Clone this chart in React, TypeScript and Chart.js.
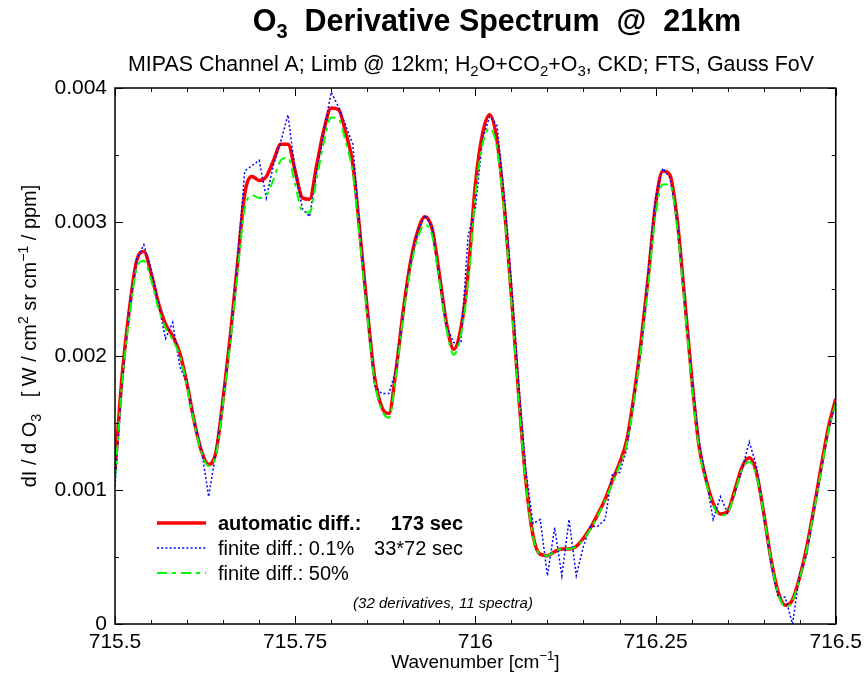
import { useEffect, useRef } from "react";
import { Chart, registerables } from "chart.js";

Chart.register(...registerables);

const FAMILY = '"Liberation Sans", Arial, Helvetica, sans-serif';

// Wavenumber sampling grid [cm^-1]
const wavenumbers = [
  715.5, 715.51, 715.52, 715.53, 715.54, 715.55, 715.56, 715.57, 715.58, 715.59,
  715.6, 715.61, 715.62, 715.63, 715.64, 715.65, 715.66, 715.67, 715.68, 715.69,
  715.7, 715.71, 715.72, 715.73, 715.74, 715.75, 715.76, 715.77, 715.78, 715.79,
  715.8, 715.81, 715.82, 715.83, 715.84, 715.85, 715.86, 715.87, 715.88, 715.89,
  715.9, 715.91, 715.92, 715.93, 715.94, 715.95, 715.96, 715.97, 715.98, 715.99,
  716.0, 716.01, 716.02, 716.03, 716.04, 716.05, 716.06, 716.07, 716.08, 716.09,
  716.1, 716.11, 716.12, 716.13, 716.14, 716.15, 716.16, 716.17, 716.18, 716.19,
  716.2, 716.21, 716.22, 716.23, 716.24, 716.25, 716.26, 716.27, 716.28, 716.29,
  716.3, 716.31, 716.32, 716.33, 716.34, 716.35, 716.36, 716.37, 716.38, 716.39,
  716.4, 716.41, 716.42, 716.43, 716.44, 716.45, 716.46, 716.47, 716.48, 716.49,
  716.5,
];

// automatic differentiation
const automaticDiff = [
  0.00115, 0.00186, 0.00235, 0.00271, 0.00278, 0.00262, 0.0024, 0.00224, 0.00215, 0.00202,
  0.00179, 0.00151, 0.00129, 0.00119, 0.00128, 0.00168, 0.00215, 0.00269, 0.00321, 0.00334,
  0.00331, 0.00334, 0.00346, 0.00358, 0.00358, 0.00338, 0.00318, 0.00317, 0.00343, 0.00369,
  0.00385, 0.00384, 0.00367, 0.00343, 0.00291, 0.00235, 0.00185, 0.00162, 0.00157, 0.0019,
  0.00234, 0.0027, 0.00293, 0.00304, 0.00295, 0.00261, 0.00224, 0.00205, 0.00221, 0.00262,
  0.00328, 0.00366, 0.0038, 0.00361, 0.00312, 0.00245, 0.00172, 0.00107, 0.00066, 0.00052,
  0.00051, 0.00054, 0.00056, 0.00056, 0.00058, 0.00064, 0.00072, 0.00082, 0.00093, 0.00107,
  0.0012, 0.00137, 0.0017, 0.00211, 0.0026, 0.00313, 0.00338, 0.00335, 0.00302, 0.00245,
  0.00185, 0.00134, 0.00108, 0.0009, 0.00082, 0.00084, 0.001, 0.00117, 0.00124, 0.00113,
  0.00083, 0.00049, 0.00024, 0.00014, 0.00018, 0.00035, 0.00058, 0.00087, 0.00118, 0.00147,
  0.00168,
];

// finite differences, 0.1% perturbation
const finiteDiff01 = [
  0.00103, 0.0018, 0.00235, 0.00272, 0.00283, 0.00265, 0.0024, 0.00213, 0.00225, 0.00192,
  0.0018, 0.0015, 0.0013, 0.00095, 0.00128, 0.00168, 0.00212, 0.0027, 0.00338, 0.00342,
  0.00346, 0.00318, 0.00343, 0.0036, 0.0038, 0.00338, 0.0031, 0.00304, 0.00338, 0.00368,
  0.00397, 0.00386, 0.00372, 0.00358, 0.00291, 0.00235, 0.00178, 0.00172, 0.00172, 0.0019,
  0.00232, 0.0027, 0.00293, 0.00305, 0.00296, 0.00258, 0.00222, 0.0021, 0.0021, 0.0029,
  0.0031, 0.00362, 0.00379, 0.00372, 0.0032, 0.00255, 0.0018, 0.00115, 0.00075, 0.00078,
  0.00036, 0.00072, 0.00036, 0.00078, 0.00036, 0.00058, 0.00073, 0.00073, 0.00078, 0.00112,
  0.00113, 0.0013, 0.00168, 0.00205, 0.00262, 0.00318, 0.0034, 0.00333, 0.00302, 0.00245,
  0.00185, 0.00138, 0.00108, 0.00078, 0.00095, 0.00083, 0.00097, 0.00115, 0.00136, 0.00118,
  0.00082, 0.00045, 0.0002, 0.0002, 0.0, 0.00037, 0.00052, 0.00085, 0.00115, 0.00145,
  0.00165,
];

// finite differences, 50% perturbation
const finiteDiff50 = [
  0.00108, 0.0018, 0.0023, 0.00265, 0.00271, 0.00257, 0.00236, 0.00221, 0.00212, 0.002,
  0.00177, 0.0015, 0.00128, 0.00118, 0.00126, 0.00165, 0.0021, 0.00262, 0.0031, 0.0032,
  0.00318, 0.0032, 0.00332, 0.00346, 0.00348, 0.00328, 0.00308, 0.00307, 0.00333, 0.0036,
  0.00378, 0.00377, 0.0036, 0.00336, 0.00285, 0.0023, 0.00182, 0.0016, 0.00154, 0.00186,
  0.0023, 0.00265, 0.00288, 0.00298, 0.0029, 0.00256, 0.0022, 0.00201, 0.00216, 0.00255,
  0.0032, 0.00358, 0.0037, 0.00355, 0.00307, 0.0024, 0.00168, 0.00105, 0.00065, 0.00052,
  0.00051, 0.00054, 0.00056, 0.00056, 0.00058, 0.00063, 0.00071, 0.00081, 0.00092, 0.00105,
  0.00118, 0.00134, 0.00166, 0.00206, 0.00254, 0.00305, 0.00328, 0.00328, 0.00296, 0.0024,
  0.00181, 0.00132, 0.00106, 0.00089, 0.00081, 0.00083, 0.00098, 0.00115, 0.00121, 0.00111,
  0.00082, 0.00048, 0.00023, 0.00013, 0.00017, 0.00034, 0.00056, 0.00085, 0.00115, 0.00144,
  0.00165,
];

const xTickValues = [715.5, 715.75, 716, 716.25, 716.5];
const xTickLabels = ["715.5", "715.75", "716", "716.25", "716.5"];
const yTickValues = [0, 0.001, 0.002, 0.003, 0.004];
const yTickLabels = ["0", "0.001", "0.002", "0.003", "0.004"];

type Part = { t: string; size: number; bold?: boolean; italic?: boolean; dy?: number };

function fontOf(p: Part) {
  return `${p.italic ? "italic " : ""}${p.bold ? "bold " : ""}${p.size}px ${FAMILY}`;
}

function richWidth(ctx: CanvasRenderingContext2D, parts: Part[]) {
  let w = 0;
  for (const p of parts) {
    ctx.font = fontOf(p);
    w += ctx.measureText(p.t).width;
  }
  return w;
}

function drawRich(
  ctx: CanvasRenderingContext2D,
  parts: Part[],
  x: number,
  y: number,
  align: "left" | "center" | "right"
) {
  const w = richWidth(ctx, parts);
  let cx = align === "center" ? x - w / 2 : align === "right" ? x - w : x;
  ctx.textAlign = "left";
  ctx.textBaseline = "alphabetic";
  for (const p of parts) {
    ctx.font = fontOf(p);
    ctx.fillText(p.t, cx, y + (p.dy || 0));
    cx += ctx.measureText(p.t).width;
  }
}

const decorPlugin = {
  id: "decor",
  afterDraw(chart: any) {
    const ctx: CanvasRenderingContext2D = chart.ctx;
    const { left, right, top, bottom } = chart.chartArea;
    const xs = chart.scales.x;
    const ys = chart.scales.y;
    ctx.save();
    ctx.fillStyle = "#000";
    ctx.strokeStyle = "#000";

    // frame
    ctx.lineWidth = 1.5;
    ctx.strokeRect(left, top, right - left, bottom - top);

    // ticks (inward, all four sides)
    ctx.lineWidth = 1;
    ctx.beginPath();
    for (let k = 0; k <= 20; k++) {
      const v = 715.5 + k * 0.05;
      const px = Math.round(xs.getPixelForValue(v)) + 0.5;
      const len = k % 5 === 0 ? 8 : 4;
      ctx.moveTo(px, bottom);
      ctx.lineTo(px, bottom - len);
      ctx.moveTo(px, top);
      ctx.lineTo(px, top + len);
    }
    for (let k = 0; k <= 8; k++) {
      const v = k * 0.0005;
      const py = Math.round(ys.getPixelForValue(v)) + 0.5;
      const len = k % 2 === 0 ? 8 : 4;
      ctx.moveTo(left, py);
      ctx.lineTo(left + len, py);
      ctx.moveTo(right, py);
      ctx.lineTo(right - len, py);
    }
    ctx.stroke();

    // title
    drawRich(
      ctx,
      [
        { t: "O", size: 30.5, bold: true },
        { t: "3", size: 20, bold: true, dy: 7 },
        { t: "  Derivative Spectrum  @  21km", size: 30.5, bold: true },
      ],
      497,
      31,
      "center"
    );

    // subtitle
    drawRich(
      ctx,
      [
        { t: "MIPAS Channel A; Limb @ 12km; H", size: 21.4 },
        { t: "2", size: 15, dy: 5 },
        { t: "O+CO", size: 21.4 },
        { t: "2", size: 15, dy: 5 },
        { t: "+O", size: 21.4 },
        { t: "3", size: 15, dy: 5 },
        { t: ", CKD; FTS, Gauss FoV", size: 21.4 },
      ],
      471,
      71,
      "center"
    );

    // x-axis label
    drawRich(
      ctx,
      [
        { t: "Wavenumber [cm", size: 19 },
        { t: "\u22121", size: 13, dy: -8 },
        { t: "]", size: 19 },
      ],
      (left + right) / 2,
      668,
      "center"
    );

    // y-axis label
    ctx.save();
    ctx.translate(36, 336);
    ctx.rotate(-Math.PI / 2);
    drawRich(
      ctx,
      [
        { t: "dI / d O", size: 20 },
        { t: "3", size: 14, dy: 5 },
        { t: "   [ W / cm", size: 20 },
        { t: "2", size: 14, dy: -8 },
        { t: " sr cm", size: 20 },
        { t: "\u22121", size: 14, dy: -8 },
        { t: " / ppm]", size: 20 },
      ],
      0,
      0,
      "center"
    );
    ctx.restore();

    // legend
    const lx0 = 157;
    const lx1 = 206;
    const rows = [523, 548, 573];
    ctx.lineCap = "butt";
    ctx.strokeStyle = "#ff0000";
    ctx.lineWidth = 3.5;
    ctx.setLineDash([]);
    ctx.beginPath();
    ctx.moveTo(lx0, rows[0]);
    ctx.lineTo(lx1, rows[0]);
    ctx.stroke();
    ctx.strokeStyle = "#0000ff";
    ctx.lineWidth = 1.6;
    ctx.setLineDash([2, 2.2]);
    ctx.beginPath();
    ctx.moveTo(lx0, rows[1]);
    ctx.lineTo(lx1, rows[1]);
    ctx.stroke();
    ctx.strokeStyle = "#00ff00";
    ctx.lineWidth = 2;
    ctx.setLineDash([10, 5, 4, 5]);
    ctx.beginPath();
    ctx.moveTo(lx0, rows[2]);
    ctx.lineTo(lx1, rows[2]);
    ctx.stroke();
    ctx.setLineDash([]);

    ctx.fillStyle = "#000";
    drawRich(ctx, [{ t: "automatic diff.:", size: 20, bold: true }], 218, rows[0] + 7, "left");
    drawRich(ctx, [{ t: "173 sec", size: 20, bold: true }], 463, rows[0] + 7, "right");
    drawRich(ctx, [{ t: "finite diff.: 0.1%", size: 20 }], 218, rows[1] + 7, "left");
    drawRich(ctx, [{ t: "33*72 sec", size: 20 }], 463, rows[1] + 7, "right");
    drawRich(ctx, [{ t: "finite diff.: 50%", size: 20 }], 218, rows[2] + 7, "left");

    drawRich(ctx, [{ t: "(32 derivatives, 11 spectra)", size: 15, italic: true }], 443, 608, "center");

    ctx.restore();
  },
};

function toPoints(values: number[]) {
  return wavenumbers.map((x, i) => ({ x, y: values[i] }));
}

export default function App() {
  const ref = useRef<HTMLCanvasElement>(null);

  useEffect(() => {
    if (!ref.current) return;
    const chart = new Chart(ref.current, {
      type: "line",
      data: {
        datasets: [
          {
            label: "automatic diff.",
            data: toPoints(automaticDiff),
            borderColor: "#ff0000",
            borderWidth: 3.5,
            pointRadius: 0,
            cubicInterpolationMode: "monotone",
            order: 3,
          },
          {
            label: "finite diff.: 0.1%",
            data: toPoints(finiteDiff01),
            borderColor: "#0000ff",
            borderWidth: 1.5,
            borderDash: [2, 2.2],
            pointRadius: 0,
            tension: 0,
            order: 2,
          },
          {
            label: "finite diff.: 50%",
            data: toPoints(finiteDiff50),
            borderColor: "#00ff00",
            borderWidth: 2,
            borderDash: [10, 5, 4, 5],
            pointRadius: 0,
            cubicInterpolationMode: "monotone",
            order: 1,
          },
        ],
      },
      options: {
        responsive: false,
        animation: false,
        events: [],
        layout: { padding: { left: 0, right: 25, top: 88, bottom: 0 } },
        plugins: {
          legend: { display: false },
          tooltip: { enabled: false },
          title: { display: false },
        },
        scales: {
          x: {
            type: "linear",
            min: 715.5,
            max: 716.5,
            grid: { display: false, drawTicks: false },
            border: { display: false },
            afterBuildTicks: (s: any) => {
              s.ticks = xTickValues.map((v) => ({ value: v }));
            },
            afterFit: (s: any) => {
              s.height = 53;
            },
            ticks: {
              autoSkip: false,
              maxRotation: 0,
              padding: 6,
              color: "#000",
              font: { family: FAMILY, size: 21 },
              callback: (_v: any, i: number) => xTickLabels[i],
            },
          },
          y: {
            type: "linear",
            min: 0,
            max: 0.004,
            grid: { display: false, drawTicks: false },
            border: { display: false },
            afterBuildTicks: (s: any) => {
              s.ticks = yTickValues.map((v) => ({ value: v }));
            },
            afterFit: (s: any) => {
              s.width = 115;
            },
            ticks: {
              autoSkip: false,
              padding: 8,
              color: "#000",
              font: { family: FAMILY, size: 21 },
              callback: (_v: any, i: number) => yTickLabels[i],
            },
          },
        },
      },
      plugins: [decorPlugin],
    });
    return () => chart.destroy();
  }, []);

  return (
    <div style={{ position: "fixed", left: 0, top: 0, width: 868, height: 677, background: "#fff" }}>
      <canvas ref={ref} width={868} height={677} style={{ display: "block" }} />
    </div>
  );
}
